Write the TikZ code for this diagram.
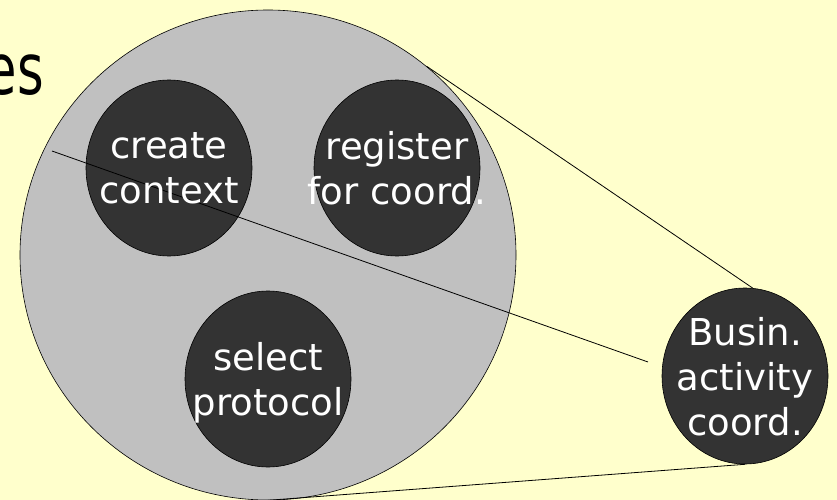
\documentclass[tikz,border=0pt]{standalone}
\usepackage{fontspec}
\setmainfont{DejaVu Sans}
\usetikzlibrary{shapes.geometric}
\definecolor{bgyellow}{RGB}{255,255,204}
\definecolor{biggray}{RGB}{192,192,192}
\definecolor{darkfill}{RGB}{51,51,51}
\begin{document}
\begin{tikzpicture}[x=1pt,y=-1pt,
  bigbubble/.style={ellipse, draw=black, line width=0.6pt, fill=biggray, minimum width=496pt, minimum height=490pt, inner sep=0pt},
  bubble/.style={ellipse, draw=black, line width=0.6pt, fill=darkfill, minimum width=166pt, minimum height=176pt, inner sep=0pt},
  lbl/.style={text=white, font=\fontsize{37}{45}\selectfont, align=center, text depth=0pt, inner sep=0pt},
  link/.style={draw=black, line width=0.8pt}]
\path[use as bounding box, fill=bgyellow] (0,0) rectangle (837,500);
\node[anchor=base east, inner sep=0pt, font=\fontsize{71}{71}\selectfont] (title) at (44,95) {\scalebox{0.72}[1]{es}};
\node[bigbubble] (big) at (268,255) {};
\node[bubble] (cc) at (169,168) {};
\node[bubble] (reg) at (397,168) {};
\node[bubble] (sel) at (268,379) {};
\node[bubble] (bac) at (745,376) {};
\coordinate (l1s) at (52,151);
\coordinate (l1e) at (648,362);
\draw[link] (l1s) -- (l1e);
\draw[link] (big.50) -- (bac.85);
\draw[link] (big.south) -- (bac.south);
\node[lbl] (cct) at (cc) {create\\context};
\node[lbl] (regt) at (reg) {register\\for coord.};
\node[lbl] (selt) at (sel) {select\\protocol};
\node[lbl] (bact) at (bac) {Busin.\\activity\\coord.};
\end{tikzpicture}
\end{document}
